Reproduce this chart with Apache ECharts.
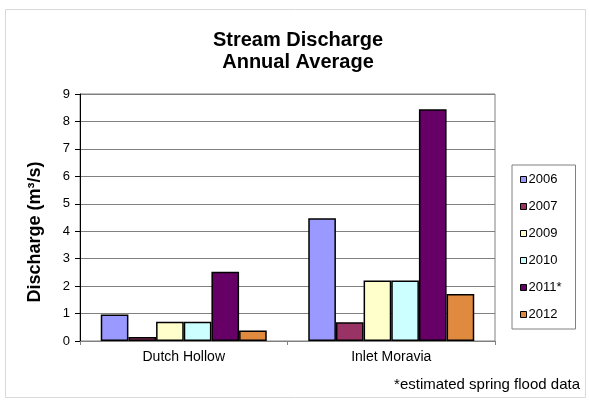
<!DOCTYPE html>
<html>
<head>
<meta charset="utf-8">
<script src="https://cdn.jsdelivr.net/npm/echarts@6/dist/echarts.min.js"></script>
<style>
  html, body { margin: 0; padding: 0; background: #fff; }
  #chart { width: 589px; height: 401px; }
</style>
</head>
<body>
<div id="chart"></div>
<script>
// Stream discharge, annual averages per site and year (m³/s)
const categories = ['Dutch Hollow', 'Inlet Moravia'];
const years = ['2006', '2007', '2009', '2010', '2011*', '2012'];
const v2006 = [0.97, 4.47];
const v2007 = [0.15, 0.68];
const v2009 = [0.70, 2.20];
const v2010 = [0.70, 2.20];
const v2011 = [2.52, 8.44];
const v2012 = [0.38, 1.71];
const yTicks = [0, 1, 2, 3, 4, 5, 6, 7, 8, 9];

const seriesValues = [v2006, v2007, v2009, v2010, v2011, v2012];
const colors = ['#9999FF', '#993366', '#FFFFCC', '#CCFFFF', '#660066', '#E08A40'];
const FONT = 'Liberation Sans, Arial, sans-serif';

const chart = echarts.init(document.getElementById('chart'), null, { renderer: 'canvas' });

chart.setOption({
  animation: false,
  backgroundColor: '#ffffff',
  textStyle: { fontFamily: FONT },
  title: {
    text: 'Stream Discharge\nAnnual Average',
    left: 298,
    top: 29,
    padding: 0,
    textAlign: 'center',
    textStyle: {
      fontFamily: FONT,
      fontSize: 20,
      fontWeight: 'bold',
      color: '#000',
      lineHeight: 22
    }
  },
  legend: {
    orient: 'vertical',
    left: 512,
    top: 165,
    padding: [8, 14, 8, 8],
    itemGap: 14,
    itemWidth: 6,
    itemHeight: 6,
    borderColor: '#808080',
    borderWidth: 1,
    icon: 'rect',
    textStyle: { fontFamily: FONT, fontSize: 13, color: '#000', padding: [0, 0, 0, -3] },
    itemStyle: { borderColor: '#000', borderWidth: 1 },
    data: years
  },
  grid: {
    left: 80,
    right: 94,
    top: 94,
    bottom: 60,
    show: true,
    borderColor: '#808080',
    borderWidth: 1,
    containLabel: false
  },
  xAxis: {
    type: 'category',
    data: categories,
    axisLine: { lineStyle: { color: '#808080', width: 1 } },
    axisTick: { show: true, inside: false, length: 4, lineStyle: { color: '#808080' } },
    axisLabel: { fontFamily: FONT, fontSize: 14, color: '#000', margin: 9 }
  },
  yAxis: {
    type: 'value',
    min: yTicks[0],
    max: yTicks[yTicks.length - 1],
    interval: 1,
    axisLine: { show: true, lineStyle: { color: '#000', width: 1 } },
    axisTick: { show: true, inside: false, length: 5, lineStyle: { color: '#000' } },
    axisLabel: { fontFamily: FONT, fontSize: 13, color: '#000', margin: 10 },
    splitLine: { show: true, lineStyle: { color: '#808080', width: 1 } }
  },
  series: years.map((y, i) => ({
    name: y,
    type: 'bar',
    data: seriesValues[i],
    barGap: '0%',
    barCategoryGap: '20%',
    itemStyle: { color: colors[i], borderColor: '#000', borderWidth: 1.5 }
  })),
  graphic: [
    {
      type: 'rect',
      shape: { x: 5.5, y: 9.5, width: 580, height: 388 },
      style: { fill: 'none', stroke: '#d9d9d9', lineWidth: 1 },
      silent: true,
      z: -1
    },
    {
      // vertical axis title
      type: 'text',
      x: 35,
      y: 232,
      rotation: Math.PI / 2,
      style: {
        text: 'Discharge (m³/s)',
        font: 'bold 18px ' + FONT,
        fill: '#000',
        align: 'center',
        verticalAlign: 'middle'
      }
    },
    {
      type: 'text',
      right: 9,
      top: 377,
      style: { text: '*estimated spring flood data', font: '15px ' + FONT, fill: '#000' }
    }
  ]
});
</script>
</body>
</html>
